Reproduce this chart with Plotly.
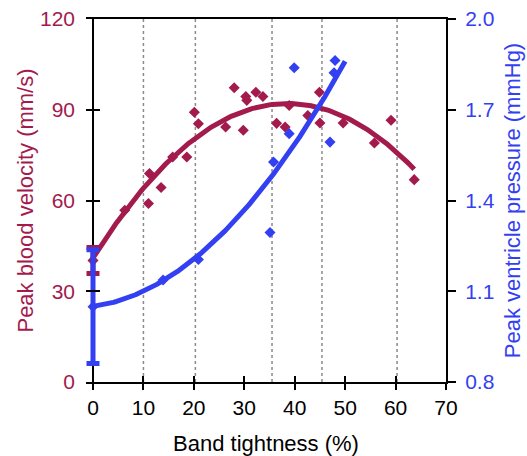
import numpy as np
import plotly.graph_objects as go

# Band tightness (%) and peak blood velocity (mm/s)
vel_tightness = [6.3, 11.0, 11.2, 13.5, 15.8, 18.6, 20.1, 20.9, 26.3, 28.0, 29.8,
                 30.3, 30.5, 32.3, 33.7, 36.4, 38.1, 38.9, 42.6, 44.9, 45.0,
                 49.6, 55.8, 59.1, 63.7]
vel_values = [56.8, 59.0, 68.9, 64.3, 74.4, 74.4, 89.2, 85.4, 84.3, 97.3, 83.2,
              94.4, 93.1, 95.8, 94.4, 85.5, 84.3, 91.4, 88.1, 95.8, 85.6,
              85.6, 79.0, 86.5, 66.9]

# Band tightness (%) and peak ventricle pressure (mmHg)
pres_tightness = [13.9, 20.9, 35.1, 35.8, 38.9, 39.9, 47.0, 47.8, 48.0]
pres_values = [1.137, 1.205, 1.294, 1.527, 1.621, 1.839, 1.593, 1.822, 1.863]

# Unbanded controls (0 %): mean and spread
control_vel_mean, control_vel_err = 40.2, 4.3
control_pres_mean, control_pres_err = 1.049, 0.188

# Quadratic trend coefficients (c0, c1, c2) and fitted range
vel_trend = [41.0, 2.65, -0.03437]
vel_trend_range = [0, 63.7]
pres_trend = [1.05, 0.0022, 0.00028]
pres_trend_range = [0, 50]

# Reference tightness levels marked with dotted lines
reference_levels = [10, 20.3, 35.5, 45.4, 60.3]

RED = "#A31A4D"
BLUE = "#3340F2"
FONT = "Liberation Sans, Arial, sans-serif"

# plot area spans 360 px; leave 7 px left of x = 0 for the crossing ticks
X_MIN = -7 * 70 / 353
X_RANGE = [X_MIN, 70]


def trend(coefs, lo, hi):
    x = np.linspace(lo, hi, 200)
    return x, coefs[0] + coefs[1] * x + coefs[2] * x ** 2


fig = go.Figure()

vx, vy = trend(vel_trend, *vel_trend_range)
fig.add_trace(go.Scatter(x=vx, y=vy, mode="lines", line=dict(color=RED, width=5),
                         hoverinfo="skip", showlegend=False))

px_, py_ = trend(pres_trend, *pres_trend_range)
fig.add_trace(go.Scatter(x=px_, y=py_, mode="lines", line=dict(color=BLUE, width=5),
                         yaxis="y2", hoverinfo="skip", showlegend=False))

fig.add_trace(go.Scatter(x=pres_tightness, y=pres_values, mode="markers", yaxis="y2",
                         marker=dict(symbol="diamond", size=8.5, color=BLUE),
                         showlegend=False, name="Pressure"))
fig.add_trace(go.Scatter(x=[0], y=[control_pres_mean], mode="markers", yaxis="y2",
                         marker=dict(symbol="diamond", size=8.5, color=BLUE),
                         error_y=dict(type="data", array=[control_pres_err], color=BLUE,
                                      thickness=5, width=6.5),
                         showlegend=False))

fig.add_trace(go.Scatter(x=vel_tightness, y=vel_values, mode="markers",
                         marker=dict(symbol="diamond", size=8.5, color=RED),
                         showlegend=False, name="Velocity"))
fig.add_trace(go.Scatter(x=[0], y=[control_vel_mean], mode="markers",
                         marker=dict(symbol="diamond", size=8.5, color=RED),
                         error_y=dict(type="data", array=[control_vel_err], color=RED,
                                      thickness=5, width=6.5),
                         showlegend=False))

# invisible trace so the inward x tick axis gets drawn
fig.add_trace(go.Scatter(x=[0], y=[0], xaxis="x3", yaxis="y", mode="markers",
                         marker=dict(opacity=0), hoverinfo="skip", showlegend=False))

for lvl in reference_levels:
    fig.add_shape(type="line", x0=lvl, x1=lvl, y0=0, y1=1, xref="x", yref="paper",
                  line=dict(color="#8a8a8a", width=1.5, dash="dot"), layer="below")

tick_font = dict(family=FONT, size=21, color="black")
fig.update_layout(
    width=527, height=456,
    margin=dict(l=86, r=81, t=19, b=74, autoexpand=False),
    paper_bgcolor="white", plot_bgcolor="white",
    font=dict(family=FONT),
    xaxis=dict(range=X_RANGE, tick0=0, dtick=10, showline=True, linecolor="black",
               linewidth=2, mirror=True, ticks="outside", ticklen=6, tickwidth=2,
               tickcolor="black", showgrid=False, automargin=False,
               zeroline=True, zerolinecolor="black", zerolinewidth=2,
               tickfont=tick_font,
               title=dict(text="Band tightness (%)", font=dict(family=FONT, size=22, color="black"),
                          standoff=19)),
    xaxis3=dict(range=X_RANGE, tick0=0, dtick=10, overlaying="x", anchor="y",
                ticks="inside", ticklen=6, tickwidth=2, tickcolor="black", automargin=False,
                showticklabels=False, showline=False, showgrid=False, zeroline=False),
    yaxis=dict(range=[0, 120], tick0=0, dtick=30, showline=False,
               ticks="inside", ticklen=14, tickwidth=2, tickcolor="black",
               ticklabelstandoff=10, automargin=False,
               showgrid=False, zeroline=False,
               tickfont=dict(family=FONT, size=21, color=RED),
               title=dict(text="Peak blood velocity (mm/s)",
                          font=dict(family=FONT, size=22, color=RED), standoff=0)),
    yaxis2=dict(range=[0.8, 2.0], tick0=0.8, dtick=0.3, tickformat=".1f",
                overlaying="y", side="right", anchor="x", showline=True,
                linecolor="black", linewidth=2, ticks="outside", ticklen=8, tickwidth=2,
                ticklabelstandoff=5, automargin=False,
                tickcolor="black", showgrid=False, zeroline=False,
                tickfont=dict(family=FONT, size=21, color=BLUE),
                title=dict(text="Peak ventricle pressure (mmHg)",
                           font=dict(family=FONT, size=22, color=BLUE), standoff=11)),
)

fig.write_html("out.html")
